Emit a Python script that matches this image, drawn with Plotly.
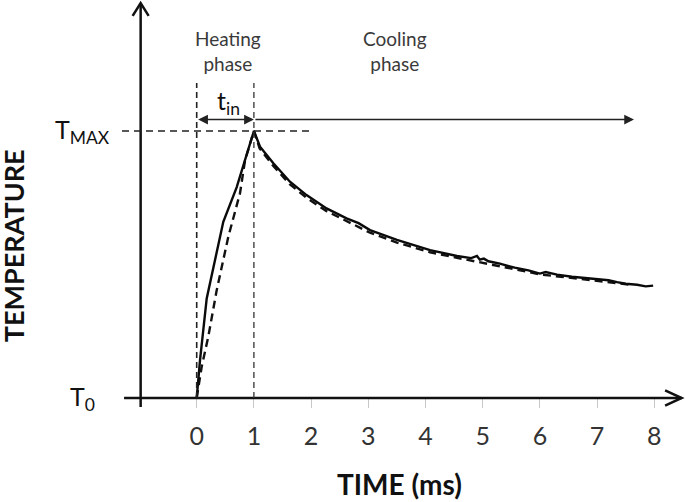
import plotly.graph_objects as go

# ---------------- data (time in ms, temperature normalised: T0 = 0, TMAX = 1) ----------------
meas_t = [0, 0.03, 0.058, 0.175, 0.465, 0.70, 1.0,
          1.107, 1.34, 1.63, 1.92, 2.27, 2.62, 2.83, 3.03, 3.5, 4.08, 4.55, 4.8, 4.9,
          4.95, 5.02, 5.1, 5.3, 5.56, 5.8, 6.0, 6.1, 6.3, 6.56, 6.8, 7.0, 7.2, 7.35,
          7.5, 7.7, 7.85, 7.98]
meas_T = [0, 0.07, 0.142, 0.373, 0.66, 0.79, 1.0,
          0.941, 0.879, 0.810, 0.760, 0.710, 0.673, 0.655, 0.629, 0.592, 0.554, 0.532, 0.524, 0.532,
          0.518, 0.522, 0.512, 0.503, 0.488, 0.478, 0.466, 0.472, 0.462, 0.454, 0.449, 0.443, 0.441, 0.434,
          0.428, 0.424, 0.418, 0.421]

model_t = [0, 0.087, 0.203, 0.35, 0.553, 0.757, 0.845, 1.0,
           1.1, 1.34, 1.63, 1.92, 2.27, 2.62, 3.03, 3.5, 4.08, 4.55, 5.0, 5.5, 6.0, 6.5, 7.0, 7.6]
model_T = [0, 0.117, 0.23, 0.404, 0.604, 0.767, 0.89, 1.0,
           0.935, 0.869, 0.800, 0.750, 0.700, 0.663, 0.619, 0.582, 0.546, 0.525, 0.507, 0.485, 0.463, 0.450, 0.438, 0.424]

tick_vals = [0, 1, 2, 3, 4, 5, 6, 7, 8]
tick_text = ["0", "1", "2", "3", "4", "5", "6", "7", "8"]

T0_level = 0.0
TMAX_level = 1.0
t_heat_end = 1.0
t_cool_end = 7.645

# ---------------- layout constants ----------------
X_RANGE = [-3.439, 8.537]
Y_RANGE = [-0.3895, 1.4906]
Y_AXIS_T = -0.98            # x position of drawn y axis
X_AXIS_START, X_AXIS_END = -1.27, 8.479
Y_AXIS_BOTTOM, Y_AXIS_TOP = -0.034, 1.479
ARROW_Y = 1.043
DASH_TOP = 1.18

fig = go.Figure()

fig.add_trace(go.Scatter(x=model_t, y=model_T, mode="lines",
                         line=dict(color="#111111", width=2.4, dash="8px,5px"),
                         showlegend=False, hoverinfo="skip"))
fig.add_trace(go.Scatter(x=meas_t, y=meas_T, mode="lines",
                         line=dict(color="#0a0a0a", width=2.4),
                         showlegend=False, hoverinfo="skip"))

shapes = []
# axes
shapes.append(dict(type="line", x0=X_AXIS_START, x1=X_AXIS_END, y0=0, y1=0,
                   line=dict(color="#111", width=2.5)))
shapes.append(dict(type="line", x0=Y_AXIS_T, x1=Y_AXIS_T, y0=Y_AXIS_BOTTOM, y1=Y_AXIS_TOP,
                   line=dict(color="#111", width=2.5)))
# chevrons
shapes.append(dict(type="path",
                   path=f"M {X_AXIS_END-0.29},0.029 L {X_AXIS_END},0 L {X_AXIS_END-0.29},-0.029",
                   line=dict(color="#111", width=2.5)))
shapes.append(dict(type="path",
                   path=f"M {Y_AXIS_T-0.14},{Y_AXIS_TOP-0.048} L {Y_AXIS_T},{Y_AXIS_TOP} L {Y_AXIS_T+0.14},{Y_AXIS_TOP-0.048}",
                   line=dict(color="#111", width=2.5)))
# dashed guides
shapes.append(dict(type="line", x0=-1.306, x1=2.0, y0=TMAX_level, y1=TMAX_level,
                   line=dict(color="#222", width=1.5, dash="7px,5px")))
shapes.append(dict(type="line", x0=0, x1=0, y0=T0_level, y1=DASH_TOP,
                   line=dict(color="#222", width=1.6, dash="6px,4px")))
shapes.append(dict(type="line", x0=t_heat_end, x1=t_heat_end, y0=T0_level, y1=DASH_TOP,
                   line=dict(color="#333", width=1.3, dash="6px,4px")))
fig.update_layout(shapes=shapes)

ann = []
# t_in double arrow
ann.append(dict(x=t_heat_end, y=ARROW_Y, ax=0, ay=ARROW_Y, xref="x", yref="y", axref="x", ayref="y",
                text="", showarrow=True, arrowhead=2, arrowsize=1.3, arrowwidth=1.5,
                arrowside="end+start", startarrowhead=2, startarrowsize=1.3, arrowcolor="#222"))
# cooling arrow
ann.append(dict(x=t_cool_end, y=ARROW_Y, ax=t_heat_end, ay=ARROW_Y, xref="x", yref="y", axref="x", ayref="y",
                text="", showarrow=True, arrowhead=2, arrowsize=1.3, arrowwidth=1.5, arrowcolor="#222"))

txt_font = dict(family="Lato, Open Sans, sans-serif", size=19, color="#3a3a3a")
ann.append(dict(x=0.54, y=1.30, text="Heating<br>phase", showarrow=False, font=txt_font,
                xanchor="center", yanchor="middle"))
ann.append(dict(x=3.467, y=1.30, text="Cooling<br>phase", showarrow=False, font=txt_font,
                xanchor="center", yanchor="middle"))
ann.append(dict(x=0.556, y=1.11, text="t<sub>in</sub>", showarrow=False,
                font=dict(family="Lato, sans-serif", size=25, color="#111"),
                xanchor="center", yanchor="middle"))
ann.append(dict(x=-1.48, y=TMAX_level, text="T<sub>MAX</sub>", showarrow=False,
                font=dict(family="Lato, sans-serif", size=25, color="#111"),
                xanchor="right", yanchor="middle"))
ann.append(dict(x=-1.74, y=T0_level, text="T<sub>0</sub>", showarrow=False,
                font=dict(family="Lato, sans-serif", size=25, color="#111"),
                xanchor="right", yanchor="middle"))
ann.append(dict(x=-3.2, y=0.571, text="<b>TEMPERATURE</b>", showarrow=False, textangle=-90,
                font=dict(family="Lato, sans-serif", size=27, color="#111"),
                xanchor="center", yanchor="middle"))
ann.append(dict(x=3.537, y=-0.323, text="<b>TIME (ms)</b>", showarrow=False,
                font=dict(family="Lato, sans-serif", size=28, color="#111"),
                xanchor="center", yanchor="middle"))
fig.update_layout(annotations=ann)

fig.update_layout(
    width=685, height=502,
    margin=dict(l=0, r=0, t=0, b=0),
    paper_bgcolor="white", plot_bgcolor="white",
    xaxis=dict(range=X_RANGE, anchor="free", position=104/502, showgrid=False, zeroline=False,
               showline=False, tickmode="array", tickvals=tick_vals, ticktext=tick_text,
               ticks="outside", ticklen=9, tickcolor="#c8c8c8", tickwidth=1,
               ticklabelstandoff=7,
               tickfont=dict(family="Lato, sans-serif", size=25, color="#333")),
    yaxis=dict(range=Y_RANGE, visible=False),
)

fig.write_html("out.html", config={"displayModeBar": False},
               post_script="document.body.style.margin='0';document.body.style.overflow='hidden';")
